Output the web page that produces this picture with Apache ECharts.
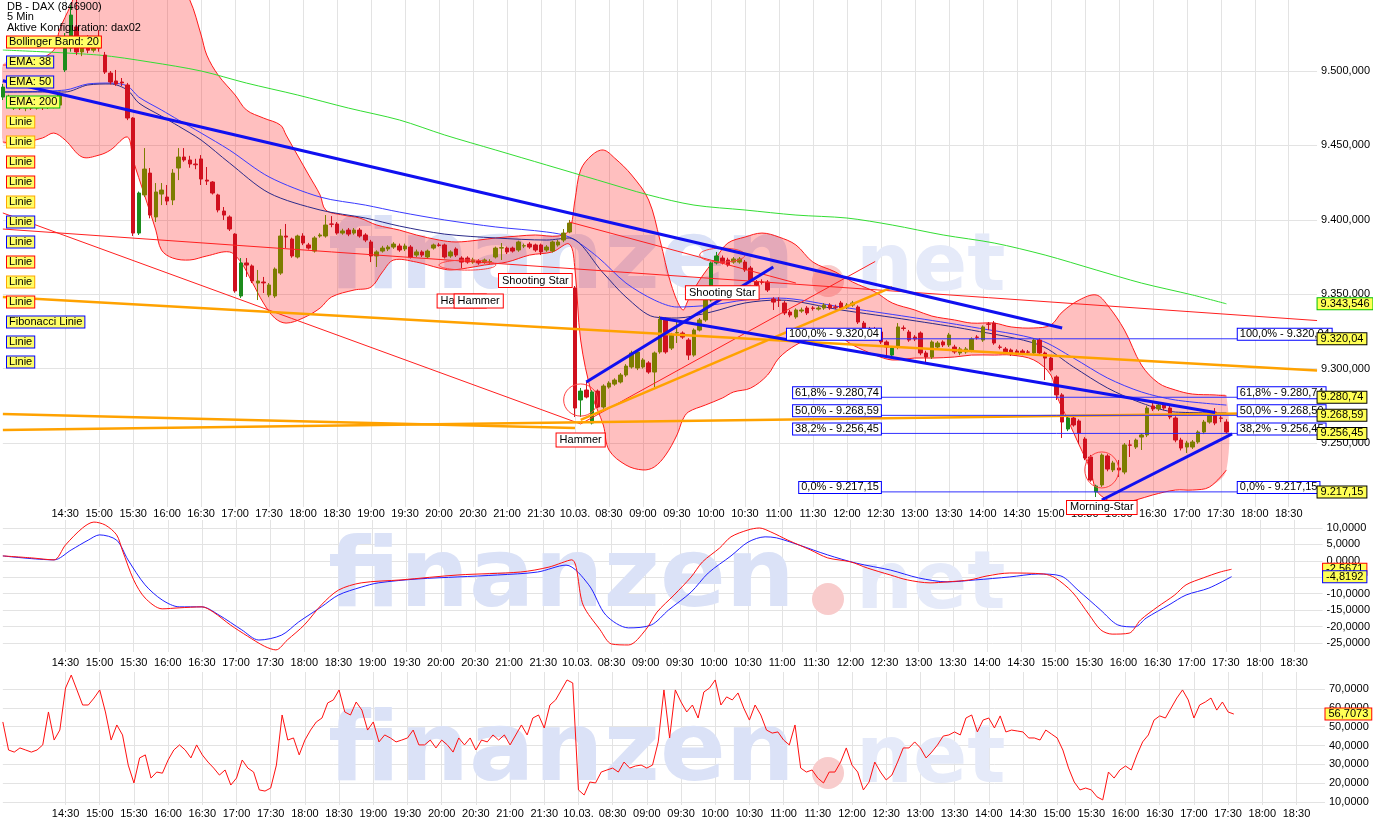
<!DOCTYPE html>
<html><head><meta charset="utf-8">
<script src="https://cdn.jsdelivr.net/npm/echarts@6/dist/echarts.min.js"></script>
<style>html,body{margin:0;padding:0;background:#fff}#c{width:1373px;height:822px}</style>
</head><body><div id="c"></div>
<script>
// ---------- time axis ----------
const sessions = [['09.03.', '13:35', '21:55'], ['10.03.', '08:00', '18:55']];
const dayBreakLabel = '10.03.';

// ---------- candles [open, close, low, high] ----------
const candles = [
[9482.5,9489.2,9480.5,9491.3],[9482.5,9480.5,9478.5,9484.0],[9475.1,9478.5,9473.8,9480.5],[9478.5,9475.1,9473.8,9480.0],
[9475.1,9477.1,9473.0,9478.5],[9477.1,9475.1,9473.8,9478.5],[9475.1,9478.5,9474.0,9480.5],[9478.5,9476.0,9473.8,9480.0],
[9476.0,9478.5,9474.5,9480.5],[9478.5,9477.1,9475.0,9481.0],[9477.1,9483.9,9476.0,9486.0],[9500.7,9515.4,9499.3,9525.5],
[9515.4,9537.6,9513.0,9544.3],[9529.6,9512.8,9510.7,9547.7],[9512.8,9520.0,9510.0,9523.0],[9520.0,9514.0,9512.0,9524.0],
[9514.0,9521.0,9512.5,9523.5],[9522.8,9515.4,9513.0,9527.5],[9510.7,9499.3,9498.0,9512.8],[9498.6,9492.6,9491.0,9500.0],
[9493.3,9491.3,9490.0,9500.7],[9492.6,9492.0,9489.9,9495.3],[9490.6,9468.4,9467.0,9492.0],[9468.4,9391.1,9389.1,9469.0],
[9391.1,9418.0,9389.8,9419.0],[9416.7,9434.1,9415.3,9448.2],[9431.4,9403.2,9401.0,9434.8],[9401.9,9418.7,9398.5,9424.7],
[9417.3,9420.0,9409.9,9424.7],[9415.3,9412.6,9409.9,9423.4],[9413.3,9431.4,9409.9,9434.1],[9434.8,9442.2,9426.7,9448.2],
[9442.2,9440.2,9439.0,9448.2],[9440.2,9437.5,9435.0,9443.0],[9437.5,9437.0,9434.0,9441.0],[9440.9,9427.4,9423.4,9443.5],
[9426.7,9426.0,9423.4,9435.5],[9425.4,9418.0,9417.0,9426.0],[9416.7,9406.6,9405.0,9417.5],[9405.9,9403.2,9399.9,9408.6],
[9401.9,9393.8,9392.5,9403.0],[9390.4,9352.2,9351.0,9391.0],[9348.8,9371.0,9347.5,9374.3],[9371.0,9369.6,9361.6,9374.3],
[9369.0,9358.9,9357.5,9370.0],[9357.5,9358.9,9346.1,9366.3],[9358.2,9357.6,9350.8,9361.6],[9349.5,9356.2,9348.0,9357.5],
[9348.8,9366.9,9347.5,9368.0],[9364.2,9389.1,9363.0,9393.8],[9389.1,9388.4,9381.0,9397.2],[9387.1,9375.7,9374.5,9388.0],
[9375.0,9389.1,9374.0,9390.0],[9389.1,9384.4,9383.0,9391.0],[9383.1,9381.0,9380.0,9384.5],[9379.0,9387.8,9378.0,9389.0],
[9389.1,9389.8,9388.0,9391.0],[9389.1,9396.5,9388.0,9403.2],[9397.2,9397.0,9395.0,9402.5],[9397.2,9391.1,9390.0,9398.5],
[9391.1,9392.5,9390.0,9394.0],[9393.1,9390.4,9389.0,9394.5],[9391.1,9393.1,9390.0,9394.5],[9393.1,9389.1,9388.0,9394.5],
[9389.8,9386.4,9385.0,9391.0],[9385.1,9375.7,9371.6,9386.5],[9375.7,9378.4,9368.3,9379.5],[9379.0,9381.0,9378.0,9382.5],
[9380.4,9381.7,9379.0,9383.0],[9381.7,9383.7,9380.5,9385.0],[9382.4,9379.7,9378.5,9384.0],[9380.4,9382.4,9379.0,9384.0],
[9381.7,9375.0,9374.0,9383.0],[9376.3,9378.4,9375.0,9380.0],[9378.4,9376.3,9375.0,9379.5],[9375.0,9379.0,9374.0,9380.0],
[9381.0,9383.1,9380.0,9384.0],[9383.1,9382.8,9382.0,9384.5],[9383.1,9375.0,9374.0,9384.0],[9375.7,9378.4,9374.5,9379.5],
[9380.4,9376.3,9375.0,9381.5],[9374.3,9371.6,9367.6,9375.5],[9374.3,9371.6,9370.5,9375.5],[9371.6,9373.0,9370.5,9374.5],
[9372.3,9371.0,9369.8,9373.5],[9371.6,9373.0,9370.5,9374.0],[9371.6,9372.0,9370.5,9373.5],[9375.0,9381.0,9374.0,9382.0],
[9381.0,9381.3,9373.0,9384.4],[9381.0,9378.4,9377.0,9382.0],[9381.0,9379.0,9378.0,9382.0],[9379.7,9385.1,9378.5,9386.0],
[9382.4,9382.6,9381.0,9384.0],[9383.7,9381.7,9380.5,9385.0],[9383.1,9379.7,9378.5,9384.0],[9383.1,9378.4,9376.3,9384.0],
[9379.7,9381.7,9378.5,9383.0],[9379.0,9385.1,9378.0,9386.0],[9383.1,9385.1,9382.0,9386.5],[9386.4,9391.1,9385.0,9393.8],
[9391.8,9397.8,9391.0,9399.9],[9354.2,9273.5,9267.5,9355.5],[9278.9,9284.9,9267.5,9287.0],[9285.6,9280.9,9280.0,9291.0],
[9263.4,9284.3,9262.5,9285.5],[9284.9,9274.2,9273.5,9286.0],[9274.2,9288.3,9273.0,9289.5],[9287.6,9290.3,9286.5,9291.5],
[9289.6,9292.3,9288.5,9293.5],[9291.0,9295.7,9290.0,9297.0],[9295.7,9301.7,9294.5,9303.0],[9301.1,9310.5,9300.0,9312.0],
[9300.4,9311.2,9299.0,9313.0],[9301.1,9305.8,9300.0,9307.0],[9303.8,9297.7,9296.5,9305.0],[9297.7,9310.5,9287.6,9311.5],
[9311.2,9333.3,9310.0,9335.4],[9333.3,9311.2,9310.0,9334.5],[9313.8,9322.6,9312.5,9324.0],[9324.0,9324.2,9317.2,9331.3],
[9323.9,9321.2,9320.0,9325.0],[9319.2,9309.1,9305.8,9320.5],[9309.1,9325.9,9308.0,9327.0],[9325.9,9332.7,9325.0,9334.0],
[9332.7,9346.1,9331.5,9347.5],[9346.1,9371.0,9345.0,9372.0],[9371.0,9375.7,9370.0,9378.4],[9374.3,9371.0,9370.0,9376.0],
[9373.0,9369.6,9368.5,9374.5],[9371.6,9373.7,9370.5,9375.0],[9371.6,9373.7,9370.5,9375.0],[9371.6,9366.3,9365.0,9373.0],
[9367.6,9359.5,9358.5,9369.0],[9358.2,9356.2,9355.0,9359.5],[9358.2,9358.0,9356.5,9360.0],[9358.2,9352.8,9351.5,9359.5],
[9346.8,9344.7,9339.4,9348.0],[9346.1,9345.8,9341.4,9348.0],[9344.1,9337.4,9336.0,9345.5],[9338.0,9336.0,9334.5,9339.5],
[9334.7,9339.4,9333.5,9340.5],[9338.7,9339.4,9337.5,9341.0],[9340.7,9337.4,9336.0,9342.0],[9340.7,9340.5,9339.0,9342.0],
[9340.0,9340.7,9339.0,9342.0],[9340.7,9342.7,9339.5,9344.0],[9342.7,9340.7,9339.5,9344.0],[9341.4,9341.2,9340.0,9343.0],
[9344.1,9340.7,9339.5,9345.5],[9341.4,9342.7,9340.0,9344.0],[9342.7,9344.1,9341.5,9345.5],[9341.4,9331.3,9330.0,9342.5],
[9330.6,9327.3,9326.0,9332.0],[9326.6,9326.4,9325.0,9328.0],[9326.6,9326.4,9325.0,9328.0],[9324.6,9317.9,9316.5,9326.0],
[9317.9,9314.5,9307.1,9319.0],[9309.1,9313.8,9308.0,9315.0],[9314.5,9328.0,9313.0,9330.6],[9327.3,9327.0,9325.5,9329.0],
[9324.6,9319.2,9318.0,9326.0],[9321.2,9319.9,9318.5,9322.5],[9323.9,9310.5,9309.0,9325.0],[9310.5,9307.8,9304.4,9312.0],
[9307.8,9317.9,9306.5,9319.0],[9314.5,9317.2,9313.0,9318.5],[9317.9,9315.9,9314.5,9319.0],[9315.9,9322.6,9314.5,9324.0],
[9314.5,9311.2,9310.0,9316.0],[9310.5,9313.2,9309.0,9314.5],[9311.2,9313.2,9310.0,9314.5],[9312.5,9319.9,9311.0,9321.0],
[9321.2,9321.0,9319.5,9322.5],[9319.2,9328.0,9318.0,9329.0],[9330.0,9329.8,9325.9,9331.3],[9330.6,9317.2,9316.0,9332.0],
[9314.5,9314.3,9313.0,9316.0],[9313.2,9311.2,9310.0,9314.5],[9312.5,9309.8,9308.5,9313.5],[9311.8,9310.5,9309.0,9313.0],
[9311.8,9310.5,9309.0,9313.0],[9311.2,9311.0,9309.5,9312.5],[9310.5,9319.2,9309.5,9320.5],[9319.2,9310.5,9309.5,9320.5],
[9310.5,9307.1,9292.3,9311.5],[9307.1,9299.1,9298.0,9308.0],[9294.4,9282.3,9278.9,9295.5],[9282.3,9264.1,9253.4,9283.5],
[9259.4,9266.8,9258.0,9268.0],[9266.8,9262.1,9261.0,9268.0],[9264.8,9256.7,9249.3,9266.0],[9252.7,9239.9,9238.5,9254.0],
[9240.6,9225.1,9224.0,9242.0],[9217.1,9221.1,9213.7,9222.0],[9221.8,9241.9,9220.5,9243.0],[9241.3,9232.5,9231.0,9242.5],
[9231.9,9236.6,9230.5,9238.0],[9233.2,9231.9,9227.2,9238.6],[9230.5,9248.7,9229.0,9250.0],[9248.7,9248.5,9240.6,9252.0],
[9247.3,9252.0,9246.0,9253.0],[9254.0,9255.4,9245.3,9256.5],[9255.4,9273.5,9254.0,9275.0],[9274.9,9272.9,9271.5,9278.2],
[9272.9,9275.5,9271.5,9277.0],[9275.5,9273.5,9272.0,9277.0],[9273.5,9267.5,9266.0,9275.0],[9266.8,9252.0,9250.5,9268.0],
[9252.0,9246.6,9245.0,9253.5],[9247.3,9250.0,9243.3,9251.5],[9247.3,9250.7,9246.0,9252.0],[9250.7,9257.4,9249.5,9258.5],
[9257.4,9264.1,9256.0,9265.5],[9264.1,9268.8,9263.0,9270.0],[9270.8,9263.4,9262.0,9273.5],[9266.8,9266.6,9264.0,9268.5],
[9264.1,9257.4,9256.0,9266.0]
];
const strongUpIdx = [0, 11, 12, 24, 42, 102, 104, 125, 126, 157, 188, 193];

// ---------- indicators [index, value] ----------
const bbUpper = [[0,9504.0],[5,9506.0],[9,9514.1],[10,9527.5],[12,9544.3],[14,9561.1],[21,9574.6],[28,9571.2],[31,9557.8],[33,9547.7],[35,9524.2],[36,9510.7],[38,9497.3],[41,9483.9],[43,9473.8],[46,9468.4],[49,9463.7],[50,9457.0],[52,9443.5],[54,9430.1],[56,9416.7],[57,9406.6],[60,9403.2],[63,9401.2],[66,9396.5],[70,9393.1],[73,9389.8],[77,9386.4],[80,9385.1],[84,9386.4],[87,9387.8],[91,9389.1],[94,9389.8],[98,9389.1],[100,9393.1],[101,9413.3],[102,9433.5],[104,9443.5],[106,9446.9],[108,9441.5],[111,9430.1],[114,9413.3],[116,9386.4],[118,9356.2],[120,9339.4],[121,9346.1],[123,9359.5],[126,9375.0],[128,9384.4],[131,9388.4],[134,9391.1],[137,9388.4],[140,9383.1],[143,9371.6],[147,9364.9],[150,9358.2],[154,9351.5],[157,9344.1],[161,9339.4],[164,9335.3],[168,9332.7],[171,9330.6],[175,9330.6],[178,9328.0],[182,9327.3],[185,9329.3],[187,9338.0],[190,9346.1],[193,9349.5],[195,9342.7],[198,9325.9],[201,9302.4],[204,9290.3],[207,9285.6],[210,9282.9],[214,9282.3],[216,9281.6]];
const bbLower = [[0,9452.3],[3,9451.6],[7,9455.0],[9,9458.3],[11,9453.6],[14,9442.2],[17,9443.5],[19,9446.9],[22,9455.6],[23,9440.2],[25,9416.7],[27,9393.1],[28,9379.7],[30,9374.3],[33,9373.0],[36,9375.7],[40,9378.4],[42,9371.6],[44,9358.2],[46,9344.1],[48,9334.0],[50,9330.6],[53,9334.0],[56,9340.7],[58,9348.1],[62,9352.8],[65,9354.8],[67,9364.9],[69,9373.0],[73,9371.6],[77,9367.6],[79,9366.3],[82,9367.6],[85,9369.6],[89,9371.6],[93,9376.3],[97,9378.4],[100,9383.7],[101,9366.3],[102,9319.2],[104,9282.3],[106,9262.1],[107,9245.3],[110,9235.2],[113,9231.9],[115,9233.9],[117,9241.9],[119,9255.4],[120,9265.5],[121,9270.8],[124,9275.5],[127,9280.2],[129,9284.3],[132,9286.9],[135,9295.7],[137,9307.1],[140,9315.9],[143,9320.6],[147,9322.6],[150,9315.9],[154,9309.1],[157,9305.8],[161,9307.1],[164,9307.1],[168,9307.8],[171,9309.1],[175,9309.1],[178,9309.1],[182,9305.8],[185,9295.7],[186,9282.3],[188,9265.5],[190,9248.7],[192,9231.9],[193,9218.4],[195,9211.7],[197,9209.7],[200,9211.7],[203,9215.1],[207,9218.4],[210,9218.4],[213,9220.4],[216,9231.9]];
const ema38 = [[0,9485.9],[11,9485.9],[15,9490.6],[19,9491.3],[22,9487.2],[24,9478.5],[28,9469.7],[31,9463.0],[35,9453.6],[40,9438.2],[47,9418.0],[56,9406.6],[64,9401.2],[70,9395.8],[78,9390.4],[87,9387.8],[96,9386.4],[100,9387.8],[106,9364.2],[110,9348.1],[115,9334.7],[119,9334.0],[125,9338.0],[131,9344.1],[137,9346.1],[148,9339.4],[160,9332.7],[171,9325.9],[183,9315.9],[189,9301.1],[195,9287.0],[201,9276.9],[207,9270.8],[216,9270.2]];
const ema50 = [[0,9485.9],[11,9487.2],[15,9491.3],[19,9491.9],[22,9489.9],[24,9482.5],[28,9473.8],[31,9467.1],[35,9458.3],[40,9446.9],[47,9428.8],[56,9415.3],[64,9409.9],[70,9405.2],[78,9399.9],[87,9395.2],[96,9391.8],[100,9388.4],[105,9375.0],[110,9357.5],[115,9346.1],[119,9341.4],[125,9342.7],[131,9346.1],[137,9347.4],[148,9341.4],[160,9334.7],[171,9328.0],[183,9319.2],[189,9307.1],[195,9293.7],[201,9284.3],[207,9278.9],[216,9275.5]];
const ema200 = [[0,9514.1],[17,9510.7],[26,9506.0],[35,9500.0],[43,9491.9],[52,9483.9],[61,9475.1],[70,9467.1],[78,9457.0],[87,9446.9],[96,9436.8],[105,9426.7],[114,9416.7],[122,9409.9],[131,9406.6],[140,9403.2],[149,9401.2],[157,9396.5],[166,9389.8],[175,9384.4],[184,9376.3],[193,9366.3],[201,9357.5],[210,9349.5],[216,9343.546]];

// ---------- drawn lines [[index, price], [index, price]] ----------
const blueLines = [[[0,9493.5],[187,9327.3]], [[116,9334.0],[214,9270.5]], [[103,9291.0],[136,9368.3]], [[194,9211.7],[217,9256.1]]];
const redLines = [[[0,9393.8],[232,9332.3]], [[0,9404.6],[102,9262.8]], [[102,9262.8],[154,9372.0]], [[100,9398.5],[140,9357.5]]];
const orangeLines = [[[0,9348.1],[232,9298.8]], [[0,9269.5],[101,9260.1]], [[0,9258.7],[232,9270.5]], [[102,9265.5],[157,9354.8]]];

// ---------- Fibonacci ----------
const fibPct = ['100,0%', '61,8%', '50,0%', '38,2%', '0,0%'];
const fibVal = [9320.04, 9280.74, 9268.59, 9256.45, 9217.15];
const fibStart = [139, 140, 140, 140, 141];
const fibEnd = 232;
const fibLabelLeftX = 155.3, fibLabelRightX = 217.6;

// ---------- candle patterns ----------
const patternText = ['Shooting Star', 'Hammer', 'Hammer', 'Hammer', 'Shooting Star', 'Morning-Star'];
const patternPos = [[94,9359.2],[81,9345.4],[84,9345.4],[102,9252.1],[127,9350.9],[194,9206.7]];
const circles = [[101.8,9278.9,2.8,10.8],[193.8,9231.9,3.65,12.1],[82.2,9369.6,5.0,3.4],[126.9,9376.3,3.7,4.7]];

// ---------- value tags on the right ----------
const mainTagVals = [9343.546, 9320.04, 9280.74, 9268.59, 9256.45, 9217.15];
const mainTagText = ['9.343,546', '9.320,04', '9.280,74', '9.268,59', '9.256,45', '9.217,15'];

// ---------- MACD [index, value] ----------
const macd = [[0,1.5],[5,0.9],[9,0.3],[11,4.8],[14,10.0],[16,11.8],[18,10.9],[20,7.9],[21,3.3],[23,-5.8],[25,-11.3],[28,-14.6],[31,-14.3],[35,-14.0],[37,-15.6],[40,-19.5],[43,-22.9],[46,-26.0],[48,-27.1],[50,-24.1],[53,-19.5],[56,-13.4],[59,-8.9],[63,-6.7],[70,-5.8],[80,-4.3],[91,-3.4],[96,-1.9],[100,0.3],[102,-13.4],[105,-21.0],[107,-25.3],[110,-25.6],[113,-21.0],[115,-15.6],[118,-10.4],[121,-4.9],[123,-0.3],[126,3.9],[128,7.3],[131,9.4],[133,10.0],[135,8.8],[138,6.3],[142,3.3],[145,0.9],[149,-0.3],[152,-2.2],[156,-4.3],[159,-5.8],[163,-6.7],[166,-6.4],[170,-5.8],[173,-4.6],[177,-3.7],[183,-4.0],[185,-5.2],[188,-9.5],[191,-16.5],[193,-21.0],[195,-22.3],[198,-22.0],[200,-18.0],[203,-14.0],[206,-10.4],[208,-7.3],[211,-5.2],[214,-3.4],[216,-2.5671]];
const macdSignal = [[0,1.5],[9,0.3],[12,3.3],[15,6.3],[17,7.9],[20,6.3],[22,0.3],[25,-7.3],[28,-11.9],[31,-14.0],[35,-14.0],[38,-16.5],[42,-21.0],[45,-24.1],[49,-22.6],[52,-18.6],[56,-14.0],[59,-10.4],[63,-8.0],[66,-6.7],[73,-5.5],[80,-4.9],[87,-4.3],[94,-3.4],[99,-1.3],[103,-7.3],[106,-16.5],[110,-20.4],[114,-19.5],[117,-15.0],[121,-9.5],[124,-3.7],[128,1.5],[131,5.7],[134,7.3],[136,7.0],[140,4.8],[145,1.8],[150,-0.7],[156,-2.8],[161,-5.2],[166,-6.4],[171,-5.8],[177,-4.9],[182,-4.0],[186,-4.6],[189,-8.9],[193,-15.0],[196,-19.5],[199,-20.1],[201,-17.4],[205,-13.4],[208,-10.4],[212,-8.3],[216,-4.8192]];
const macdTagVals = [-2.5671, -4.8192];
const macdTagText = ['-2,5671', '-4,8192'];

// ---------- oscillator (one value per candle) ----------
const osc = [52.5,37.6,36.5,38.7,37.6,36.5,37.6,40.3,57.8,42.9,48.2,70.5,77.4,69.5,61.5,61.5,65.2,69.5,57.8,42.9,
50.9,45.6,29.6,20.1,33.4,35.0,22.7,25.9,25.3,32.3,37.6,40.3,37.6,33.4,40.3,35.0,31.2,28.0,24.3,27.0,
19.0,22.7,32.3,28.0,25.9,16.4,15.8,17.4,29.6,56.2,42.9,44.0,35.0,42.9,48.2,52.5,54.6,62.6,64.2,69.5,
57.8,56.2,63.1,58.8,48.2,52.5,41.9,45.6,44.0,41.9,42.9,44.0,48.2,40.3,40.3,42.9,38.7,42.9,40.3,36.5,
44.0,40.3,44.0,37.6,42.9,41.9,45.6,42.9,45.6,40.3,45.6,50.9,45.6,54.6,56.2,49.3,61.5,64.2,69.5,74.8,
73.2,16.4,13.7,20.6,20.1,25.9,27.0,28.0,25.9,31.2,28.0,29.1,29.6,28.0,29.6,41.9,69.5,44.0,69.5,63.1,
57.8,61.5,54.6,68.4,70.5,74.8,61.5,65.8,64.2,67.9,59.9,53.5,61.5,56.2,48.2,46.6,47.2,42.9,40.3,50.9,
28.0,25.9,27.0,22.7,20.1,25.9,25.9,31.2,38.7,29.6,25.9,16.4,20.6,31.2,25.9,21.7,24.3,31.2,38.7,38.7,
41.9,38.7,33.4,36.5,40.3,45.0,45.6,47.2,45.6,54.6,56.2,47.2,53.5,54.6,49.3,55.7,47.2,48.2,47.7,47.2,
44.0,44.0,42.9,48.2,46.1,44.0,37.6,28.0,20.6,16.4,17.4,16.4,12.7,11.1,25.9,22.7,27.0,29.1,27.0,35.0,
41.9,45.6,53.5,55.7,54.6,59.9,65.2,69.5,64.2,54.6,61.5,63.1,65.2,58.8,63.1,57.8,56.7073];
const oscTagVals = [56.7073];
const oscTagText = ['56,7073'];

// ---------- left legend ----------
const legendText = ['Bollinger Band: 20','EMA: 38','EMA: 50','EMA: 200','Linie','Linie','Linie','Linie','Linie','Linie','Linie','Linie','Linie','Linie','Fibonacci Linie','Linie','Linie'];
const legendKind = ['red','blue','blue','green','orange','orange','red','red','orange','blue','blue','red','orange','red','blue','blue','blue'];
const headerLines = ['DB - DAX (846900)', '5 Min', 'Aktive Konfiguration: dax02'];

// ================= build =================
function buildCats() {
  const out = [];
  for (const [d, a, b] of sessions) {
    let [h, m] = a.split(':').map(Number);
    const [eh, em] = b.split(':').map(Number);
    while (h * 60 + m <= eh * 60 + em) {
      out.push(d + ' ' + String(h).padStart(2, '0') + ':' + String(m).padStart(2, '0'));
      m += 5; if (m >= 60) { m -= 60; h++; }
    }
  }
  return out;
}
const categories = buildCats();
const showTick = (i, v) => i >= 8 && /:(00|30)$/.test(v);
const fmtTime = (v) => { const [d, t] = v.split(' '); return (d === dayBreakLabel && t === sessions[1][1]) ? dayBreakLabel : t; };
const de = (v, d) => { let s = Math.abs(v).toFixed(d); let [i, f] = s.split('.'); i = i.replace(/\B(?=(\d{3})+(?!\d))/g, '.'); return (v < 0 && Number(s) !== 0 ? '-' : '') + i + (f ? ',' + f : ''); };

const FONT = '"Liberation Sans", Arial, sans-serif';
const COL = { red: '#ff0000', blue: '#0000ff', green: '#00c000', orange: '#ffa500', black: '#000000' };

const mkX = (gi, margin) => ({
  type: 'category', gridIndex: gi, data: categories, boundaryGap: false,
  axisLine: { show: false }, axisTick: { show: false },
  axisLabel: { interval: showTick, formatter: fmtTime, margin: margin, fontSize: 11, fontFamily: FONT, color: '#000' },
  splitLine: { show: true, interval: showTick, lineStyle: { color: '#e3e3e3', width: 1 } }
});
const mkY = (gi, min, max, split, dec) => ({
  type: 'value', gridIndex: gi, position: 'right', min: min, max: max, splitNumber: split, scale: true,
  axisLine: { show: false }, axisTick: { show: false },
  axisLabel: { margin: 4, fontSize: 11, fontFamily: FONT, color: '#000', showMinLabel: false, showMaxLabel: false, formatter: v => de(v, dec) },
  splitLine: { show: true, showMinLine: false, showMaxLine: false, lineStyle: { color: '#e3e3e3', width: 1 } }
});

const lineS = (gi, data, color, width, smooth, z) => ({
  type: 'line', xAxisIndex: gi, yAxisIndex: gi, data: data, symbol: 'none', smooth: smooth, silent: true, z: z,
  lineStyle: { color: color, width: width }, animation: false
});

function textBox(x, y, text, opts) {
  return { type: 'text', z2: opts.z2 || 0, style: { x: x, y: y, text: text, font: '11px ' + FONT, fill: '#000', align: opts.align || 'center', verticalAlign: opts.valign || 'middle', backgroundColor: opts.bg, borderColor: opts.border, borderWidth: 1, padding: opts.padding || [1, 3] } };
}

const candleData = candles.map((c, i) => strongUpIdx.includes(i) ? { value: c, itemStyle: { color: '#1c8c1c', borderColor: '#1c8c1c' } } : c);

const series = [];
series.push({
  type: 'custom', xAxisIndex: 0, yAxisIndex: 0, clip: true, silent: true, z: 2, data: [[0, 9400]],
  renderItem: (params, api) => {
    const up = bbUpper.map(p => api.coord(p));
    const lo = bbLower.map(p => api.coord(p));
    const poly = up.concat(lo.slice().reverse());
    return { type: 'group', children: [
      { type: 'polygon', shape: { points: poly, smooth: 0.35 }, style: { fill: 'rgba(255,0,0,0.25)', stroke: null } },
      { type: 'polyline', shape: { points: up, smooth: 0.35 }, style: { stroke: '#ff1a1a', lineWidth: 1, fill: null } },
      { type: 'polyline', shape: { points: lo, smooth: 0.35 }, style: { stroke: '#ff1a1a', lineWidth: 1, fill: null } }
    ] };
  }
});
series.push(lineS(0, ema200, '#33dd33', 1, 0.3, 3));
series.push(lineS(0, ema50, '#3a3aff', 1, 0.3, 3));
series.push(lineS(0, ema38, '#2a2a8a', 1, 0.3, 3));
series.push({
  type: 'candlestick', xAxisIndex: 0, yAxisIndex: 0, data: candleData, barWidth: 4, silent: true, z: 4,
  itemStyle: { color: '#7d7d00', color0: '#d0101e', borderColor: '#7d7d00', borderColor0: '#d0101e', borderWidth: 1 }
});
redLines.forEach(l => series.push(lineS(0, l, '#ff2020', 1, false, 5)));
orangeLines.forEach(l => series.push(lineS(0, l, '#ffa200', 2.5, false, 5)));
blueLines.forEach(l => series.push(lineS(0, l, '#1010f0', 3, false, 6)));
fibVal.forEach((v, k) => series.push(lineS(0, [[fibStart[k], v], [fibEnd, v]], '#3030ff', 1, false, 5)));
series.push({
  type: 'custom', xAxisIndex: 0, yAxisIndex: 0, clip: true, silent: true, z: 6, data: circles,
  renderItem: (params, api) => {
    const c = api.coord([api.value(0), api.value(1)]);
    const e = api.coord([api.value(0) + api.value(2), api.value(1) - api.value(3)]);
    return { type: 'ellipse', shape: { cx: c[0], cy: c[1], rx: Math.abs(e[0] - c[0]), ry: Math.abs(e[1] - c[1]) }, style: { fill: null, stroke: '#ff4040', lineWidth: 1 } };
  }
});
series.push({
  type: 'custom', xAxisIndex: 0, yAxisIndex: 0, clip: false, silent: true, z: 8, data: patternPos,
  renderItem: (params, api) => {
    const c = api.coord([api.value(0), api.value(1)]);
    return textBox(c[0], c[1], patternText[params.dataIndex], { bg: '#ffffff', border: '#ff0000', padding: [1, 3] });
  }
});
series.push({
  type: 'custom', xAxisIndex: 0, yAxisIndex: 0, clip: false, silent: true, z: 8, data: fibVal.map(v => [fibLabelLeftX, v]),
  renderItem: (params, api) => {
    const k = params.dataIndex;
    const t = fibPct[k] + ' - ' + de(fibVal[k], 2);
    const a = api.coord([fibLabelLeftX, fibVal[k]]);
    const b = api.coord([fibLabelRightX, fibVal[k]]);
    return { type: 'group', children: [
      textBox(a[0], a[1] + 1, t, { bg: '#ffffff', border: '#0000ff', align: 'right', valign: 'bottom', padding: [0, 2] }),
      textBox(b[0], b[1] + 1, t, { bg: '#ffffff', border: '#0000ff', align: 'left', valign: 'bottom', padding: [0, 2] })
    ] };
  }
});
function tagSeries(gi, vals, texts, borders) {
  return {
    type: 'custom', xAxisIndex: gi, yAxisIndex: gi, clip: false, silent: true, z: 9, data: vals.map(v => [categories.length - 1, v]),
    renderItem: (params, api) => {
      const c = api.coord([api.value(0), api.value(1)]);
      return textBox(c[0] + 0.5, c[1], texts[params.dataIndex], { bg: '#ffff55', border: borders[params.dataIndex], align: 'left', valign: 'middle', padding: [0, 3] });
    }
  };
}
series.push(tagSeries(0, mainTagVals, mainTagText, [COL.green, COL.black, COL.black, COL.black, COL.black, COL.black]));
series.push(lineS(1, macdSignal, '#2020ff', 1, 0.3, 3));
series.push(lineS(1, macd, '#ff1010', 1, 0.3, 4));
series.push(tagSeries(1, macdTagVals, macdTagText, [COL.red, COL.blue]));
series.push(lineS(2, osc, '#ff1010', 1, false, 3));
series.push(tagSeries(2, oscTagVals, oscTagText, [COL.red]));

// graphic: watermark, header, legend
const graphic = [];
const wmTop = [214, 532, 706];
wmTop.forEach(yt => {
  graphic.push({ type: 'text', z: 1, silent: true, style: { x: 328, y: yt, text: 'finanzen', font: 'bold 97px "DejaVu Sans"', fill: '#dbe2f7', align: 'left', verticalAlign: 'top' } });
  graphic.push({ type: 'circle', z: 1, silent: true, shape: { cx: 828, cy: yt + 67, r: 16 }, style: { fill: '#f8cccc' } });
  graphic.push({ type: 'text', z: 1, silent: true, style: { x: 856, y: yt + 15, text: 'net', font: 'bold 80px "DejaVu Sans"', fill: '#e5eaf9', align: 'left', verticalAlign: 'top' } });
});
headerLines.forEach((t, k) => graphic.push({ type: 'text', z: 20, silent: true, style: { x: 7, y: 1 + k * 10.5, text: t, font: '11px ' + FONT, fill: '#000', align: 'left', verticalAlign: 'top' } }));
legendText.forEach((t, k) => graphic.push({ type: 'text', z: 20, silent: true, style: { x: 7, y: 42 + k * 20, text: t, font: '11px ' + FONT, fill: '#000', align: 'left', verticalAlign: 'middle', backgroundColor: '#ffff66', borderColor: COL[legendKind[k]], borderWidth: 1, padding: [0, 2] } }));

const option = {
  animation: false,
  backgroundColor: '#ffffff',
  textStyle: { fontFamily: FONT },
  grid: [
    { left: 2.85, right: 48, top: 0, height: 507 },
    { left: 2.85, right: 48, top: 520, height: 132 },
    { left: 2.85, right: 48, top: 672, height: 133 }
  ],
  xAxis: [mkX(0, 1), mkX(1, 5), mkX(2, 3)],
  yAxis: [mkY(0, 9207.0, 9547.72, 5, 3), mkY(1, -27.74, 12.43, 8, 4), mkY(2, 8.40, 79.03, 7, 4)],
  series: series,
  graphic: graphic
};
const chart = echarts.init(document.getElementById('c'));
chart.setOption(option);
</script></body></html>
